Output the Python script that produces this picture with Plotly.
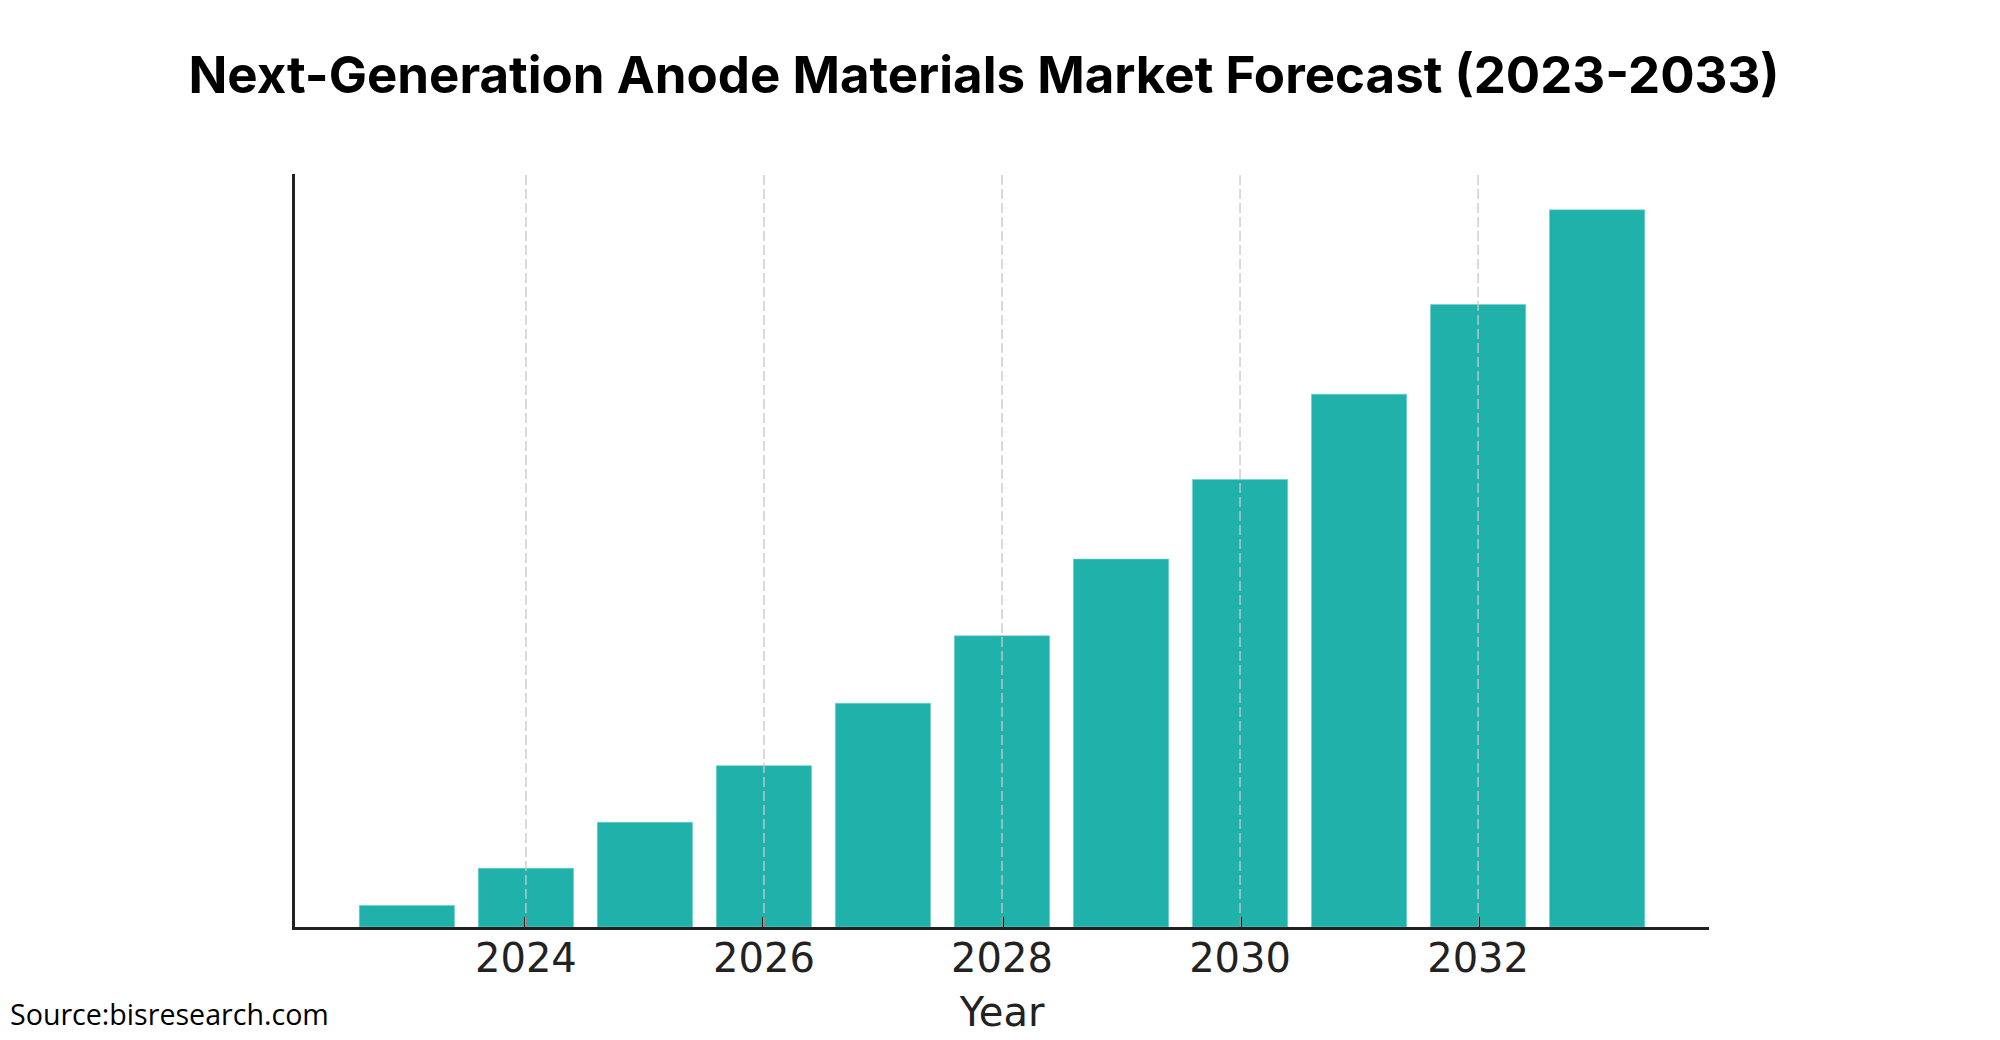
import plotly.graph_objects as go

years = [2023, 2024, 2025, 2026, 2027, 2028, 2029, 2030, 2031, 2032, 2033]
market_values = [0.30, 0.82, 1.46, 2.25, 3.12, 4.06, 5.13, 6.24, 7.43, 8.68, 10.0]
tick_years = [2024, 2026, 2028, 2030, 2032]
tick_labels = ["2024", "2026", "2028", "2030", "2032"]

title_text = "Next-Generation Anode Materials Market Forecast (2023-2033)"
source_text = "Source:bisresearch.com"
bar_color = "#20B2AA"

L, R, T, B = 287, 299, 166, 121
PW = 2000 - L - R
PH = 1040 - T - B

fig = go.Figure()
fig.add_trace(go.Bar(
    x=years, y=market_values, width=0.8,
    marker=dict(color=bar_color, line=dict(color="#6fd0ca", width=0.6)),
    showlegend=False,
))

# dashed vertical grid drawn above the bars, one per tick year
for ty in tick_years:
    fig.add_shape(type="line", xref="x", yref="y domain", x0=ty, x1=ty, y0=0, y1=1,
                  layer="above",
                  line=dict(color="rgba(200,200,200,0.75)", width=1.8, dash="10px,4px"))

fig.update_layout(
    width=2000, height=1040,
    paper_bgcolor="white", plot_bgcolor="white",
    margin=dict(l=L, r=R, t=T, b=B),
    title=dict(text="<b>" + title_text + "</b>", x=0.488, xanchor="center",
               y=1 - 67 / 1040, yanchor="middle",
               font=dict(family="Inter", size=51, color="#000000")),
    bargap=0.2,
)
fig.update_xaxes(
    range=[2022.06, 2033.94],
    tickmode="array", tickvals=tick_years, ticktext=tick_labels,
    ticks="inside", ticklen=10, tickwidth=2.5, tickcolor="#222222",
    tickfont=dict(family="DejaVu Sans", size=40, color="#222222"),
    ticklabelstandoff=-6,
    showline=True, linecolor="#222222", linewidth=3,
    showgrid=False, zeroline=False, layer="above traces",
    title=dict(text="Year", font=dict(family="DejaVu Sans", size=40, color="#222222"),
               standoff=18),
)
fig.update_yaxes(
    range=[0, 10.5],
    showticklabels=False, ticks="", showgrid=False, zeroline=False,
    showline=True, linecolor="#222222", linewidth=3,
)
fig.add_annotation(
    text=source_text, xref="paper", yref="paper",
    x=-L / PW, y=-(1006 - (1040 - B)) / PH, xanchor="left", yanchor="middle",
    showarrow=False, font=dict(family="Open Sans", size=28.6, color="#000000"),
)

fig.write_html("out.html")
